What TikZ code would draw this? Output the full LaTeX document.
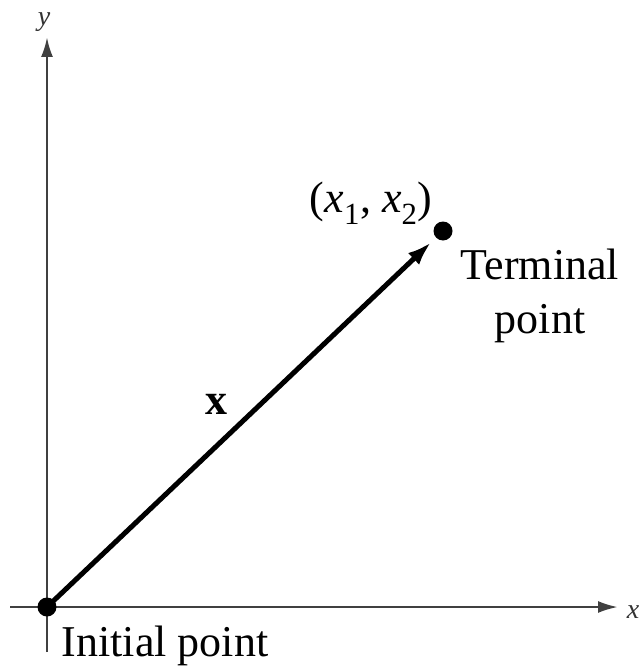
\documentclass[tikz,border=0pt]{standalone}
\usepackage{fontspec}
\setmainfont{Liberation Serif}
\usetikzlibrary{arrows.meta,calc}
\tikzset{
  axis/.style={line width=2.6pt, draw=black!75, -{Latex[length=20pt,width=12pt]}},
  vec/.style={line width=5pt, -{Latex[length=24pt,width=16pt]}},
  pt/.style={circle, fill=black, inner sep=0pt, minimum size=19pt},
  lbl/.style={font=\fontsize{44}{50}\selectfont, inner sep=0pt},
  small/.style={font=\fontsize{28}{32}\selectfont\itshape, inner sep=0pt, text=black!80}
}
\begin{document}
\begin{tikzpicture}[x=1pt,y=-1pt]
\useasboundingbox (0,0) rectangle (643,669);
\coordinate (ybot) at (47,652);
\coordinate (ytop) at (47,37);
\coordinate (xleft) at (10,607);
\coordinate (xright) at (618,607);
\draw[axis] (ybot) -- (ytop);
\draw[axis] (xleft) -- (xright);
\node[pt] (O) at (47,607) {};
\node[pt] (T) at (443,231) {};
\coordinate (tipend) at ($(O.center)!0.97!(T.center)$);
\draw[vec] (O.center) -- (tipend);
\node[small] (ylab) at (44,22) {y};
\node[small] (xlab) at (633,612) {x};
\node[lbl] (pair) at (371,203) {(\textit{x}\textsubscript{1}, \textit{x}\textsubscript{2})};
\node[lbl, align=center] (term) at (540,296) {Terminal\\[4pt]point};
\node[lbl] (vx) at (216,404) {\textbf{x}};
\node[lbl] (init) at (165,646) {Initial point};
\end{tikzpicture}
\end{document}
